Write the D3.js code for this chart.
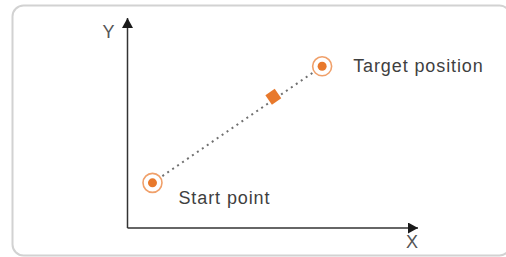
<!DOCTYPE html>
<html>
<head>
<meta charset="utf-8">
<script src="https://cdn.jsdelivr.net/npm/d3@7"></script>
<style>
  body { margin: 0; background: #fff; }
  svg { display: block; }
</style>
</head>
<body>
<div class="graph"></div>
<script>
// points of the move, in axis units (0..100)
var pointNames = ["Start point", "Target position"];
var pointX = [8.6, 67];
var pointY = [21.5, 77];
// the moving part, somewhere along the way
var midX = [50.2];
var midY = [62.5];
var axisNames = ["X", "Y"];

var width = 506, height = 257;

var svg = d3.select(".graph")
	.append("svg")
	.attr("width", width)
	.attr("height", height);

// frame round the picture
svg.append("rect")
	.attr("x", 12.5)
	.attr("y", 5.5)
	.attr("width", 498)
	.attr("height", 250)
	.attr("rx", 11)
	.attr("fill", "none")
	.attr("stroke", "#d2d2d2")
	.attr("stroke-width", 2);

const x = d3.scaleLinear().domain([0, 100]).range([127.5, 418]);
const y = d3.scaleLinear().domain([0, 100]).range([228, 18]);

let defs = svg.append("defs");
defs.append("marker")
	.attr("id", "arrow")
	.attr("viewBox", "0 0 10 10")
	.attr("refX", 10)
	.attr("refY", 5)
	.attr("markerWidth", 10)
	.attr("markerHeight", 11)
	.attr("markerUnits", "userSpaceOnUse")
	.attr("orient", "auto")
	.attr("preserveAspectRatio", "none")
	.append("path")
	.attr("d", "M0,0L10,5L0,10Z")
	.attr("fill", "#1a1a1a");

// axes
svg.append("line")
	.attr("x1", x(0)).attr("y1", y(0))
	.attr("x2", x(100)).attr("y2", y(0))
	.attr("stroke", "#333")
	.attr("stroke-width", 1.5)
	.attr("marker-end", "url(#arrow)");

svg.append("line")
	.attr("x1", x(0)).attr("y1", y(0))
	.attr("x2", x(0)).attr("y2", y(100))
	.attr("stroke", "#333")
	.attr("stroke-width", 1.5)
	.attr("marker-end", "url(#arrow)");

svg.append("text")
	.attr("x", x(100) - 6)
	.attr("y", y(0) + 20)
	.attr("text-anchor", "middle")
	.attr("font-family", "Liberation Sans, Arial, sans-serif")
	.attr("font-size", 18)
	.attr("fill", "#555")
	.text(axisNames[0]);

svg.append("text")
	.attr("x", x(0) - 19)
	.attr("y", y(100) + 20)
	.attr("text-anchor", "middle")
	.attr("font-family", "Liberation Sans, Arial, sans-serif")
	.attr("font-size", 18)
	.attr("fill", "#555")
	.text(axisNames[1]);

// dotted path between the points
svg.append("line")
	.attr("x1", x(pointX[0])).attr("y1", y(pointY[0]))
	.attr("x2", x(pointX[1])).attr("y2", y(pointY[1]))
	.attr("stroke", "#707070")
	.attr("stroke-width", 2)
	.attr("stroke-dasharray", "2,4")
	.attr("stroke-linecap", "butt");

// diamond
svg.selectAll(".mid")
	.data(midX)
	.enter()
	.append("path")
	.attr("class", "mid")
	.attr("d", d3.symbol().type(d3.symbolSquare).size(130))
	.attr("transform", function(d, i){
		return "translate(" + x(d) + "," + y(midY[i]) + ") rotate(-35)";
	})
	.attr("fill", "#e8792c");

// targets
for(let i = 0; i < pointNames.length; i++){
	let g = svg.append("g")
		.attr("transform", "translate(" + x(pointX[i]) + "," + y(pointY[i]) + ")");
	g.append("circle")
		.attr("r", 9.5)
		.attr("fill", "#fff")
		.attr("stroke", "#f0a06a")
		.attr("stroke-width", 1.6);
	g.append("circle")
		.attr("r", 4.5)
		.attr("fill", "#e8792c");
}

svg.append("text")
	.attr("x", x(pointX[0]) + 26)
	.attr("y", y(pointY[0]) + 21)
	.attr("font-family", "Liberation Sans, Arial, sans-serif")
	.attr("font-size", 18)
	.attr("letter-spacing", 0.9)
	.attr("fill", "#3f3f3f")
	.text(pointNames[0]);

svg.append("text")
	.attr("x", x(pointX[1]) + 31)
	.attr("y", y(pointY[1]) + 6)
	.attr("font-family", "Liberation Sans, Arial, sans-serif")
	.attr("font-size", 18)
	.attr("letter-spacing", 0.9)
	.attr("fill", "#3f3f3f")
	.text(pointNames[1]);
</script>
</body>
</html>
